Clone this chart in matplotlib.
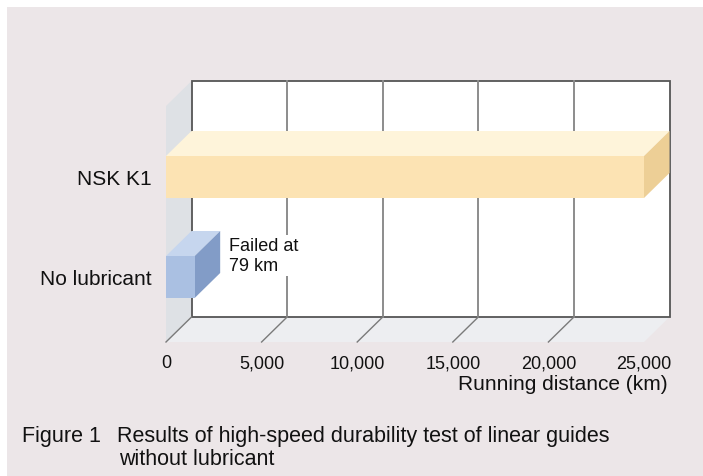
import matplotlib
matplotlib.use("Agg")
import matplotlib.pyplot as plt
from matplotlib.patches import Rectangle, Polygon

plt.rcParams['font.family'] = ['Liberation Sans', 'DejaVu Sans']

# data
categories = ["No lubricant", "NSK K1"]
bar_lengths = [1500, 25000]          # drawn length (km); the short bar is only a stub
bar_front = ["#AAC0E2", "#FCE3B3"]
bar_top = ["#C6D6EE", "#FEF4DA"]
bar_side = ["#829CC7", "#EDCF96"]
x_ticks = [0, 5000, 10000, 15000, 20000, 25000]
note_text = "Failed at\n79 km"
xlabel = "Running distance (km)"
caption_head = "Figure 1"
caption_lines = ["Results of high-speed durability test of linear guides",
                 "without lubricant"]

# layout (pixels of a 703x477 figure)
W, H = 703, 477
px_per_km = 478 / 25000
x0_px = 166            # front plane x=0
ax_right_px = 690
ax_top_px = 70
ax_bot_px = 343        # front edge of floor
px_per_cat = 100
cat0_px = 278          # centre of category 0
depth_x = 25.5 / px_per_km
depth_y = 0.25
bar_h = 0.42
x_max = 25000
y_floor = -(ax_bot_px - cat0_px) / px_per_cat
y_top = 1 + (cat0_px - px_per_cat - 107) / px_per_cat

fig = plt.figure(figsize=(W / 100, H / 100), dpi=100)
fig.patch.set_facecolor("white")
fig.patches.append(Rectangle((7 / W, 0), 1, 1 - 8 / H, transform=fig.transFigure,
                             facecolor="#ECE6E8", edgecolor="none", zorder=-10))

ax = fig.add_axes([x0_px / W, 1 - ax_bot_px / H,
                   (ax_right_px - x0_px) / W, (ax_bot_px - ax_top_px) / H])
ax.set_xlim(0, (ax_right_px - x0_px) / px_per_km)
ax.set_ylim(y_floor, 1 + (cat0_px - px_per_cat - ax_top_px) / px_per_cat)
ax.patch.set_visible(False)
for s in ax.spines.values():
    s.set_visible(False)

# left wall
ax.add_patch(Polygon([(0, y_floor), (depth_x, y_floor + depth_y),
                      (depth_x, y_top + depth_y), (0, y_top)],
                     facecolor="#DEE1E5", edgecolor="none", zorder=1, clip_on=False))
# floor
ax.add_patch(Polygon([(0, y_floor), (x_max, y_floor),
                      (x_max + depth_x, y_floor + depth_y), (depth_x, y_floor + depth_y)],
                     facecolor="#EDEEF1", edgecolor="none", zorder=1, clip_on=False))
# back wall
ax.add_patch(Rectangle((depth_x, y_floor + depth_y), x_max, y_top - y_floor,
                       facecolor="white", edgecolor="#555555", lw=1.3, zorder=2, clip_on=False))
for t in x_ticks[1:-1]:
    ax.plot([t + depth_x, t + depth_x], [y_floor + depth_y, y_top + depth_y],
            color="#8C8C8C", lw=1.4, zorder=3, clip_on=False)
for t in x_ticks[:-1]:
    ax.plot([t, t + depth_x], [y_floor, y_floor + depth_y],
            color="#7A7A7A", lw=1.0, zorder=3, clip_on=False)

# 3D bars
for i, (L, cf, ct, cs) in enumerate(zip(bar_lengths, bar_front, bar_top, bar_side)):
    lo, hi = i - bar_h / 2, i + bar_h / 2
    ax.add_patch(Polygon([(0, hi), (L, hi), (L + depth_x, hi + depth_y), (depth_x, hi + depth_y)],
                         facecolor=ct, edgecolor="none", zorder=5, clip_on=False))
    ax.add_patch(Polygon([(L, lo), (L + depth_x, lo + depth_y), (L + depth_x, hi + depth_y), (L, hi)],
                         facecolor=cs, edgecolor="none", zorder=5, clip_on=False))
    ax.add_patch(Rectangle((0, lo), L, bar_h, facecolor=cf, edgecolor="none",
                           zorder=6, clip_on=False))

ax.text(bar_lengths[0] + depth_x + 450, 0.215, note_text, fontsize=13, ha="left", va="center",
        linespacing=1.25, color="#111111", zorder=7,
        bbox=dict(facecolor="white", edgecolor="none", pad=1))

ax.set_xticks(x_ticks)
ax.set_xticklabels([f"{t:,}" for t in x_ticks], fontsize=13, color="#111111")
ax.set_yticks(range(len(categories)))
ax.set_yticklabels(categories, fontsize=15, color="#111111")
ax.tick_params(axis="x", length=0, pad=9)
ax.tick_params(axis="y", length=0, pad=10)

fig.text(668 / W, 1 - 385 / H, xlabel, fontsize=15, ha="right", va="center", color="#111111")
fig.text(22 / W, 1 - 442 / H, caption_head, fontsize=15.5, ha="left", va="baseline", color="#111111")
fig.text(117 / W, 1 - 442 / H, caption_lines[0], fontsize=15.5, ha="left", va="baseline", color="#111111")
fig.text(119 / W, 1 - 465 / H, caption_lines[1], fontsize=15.5, ha="left", va="baseline", color="#111111")

fig.savefig("out.png", dpi=100, facecolor=fig.get_facecolor())
